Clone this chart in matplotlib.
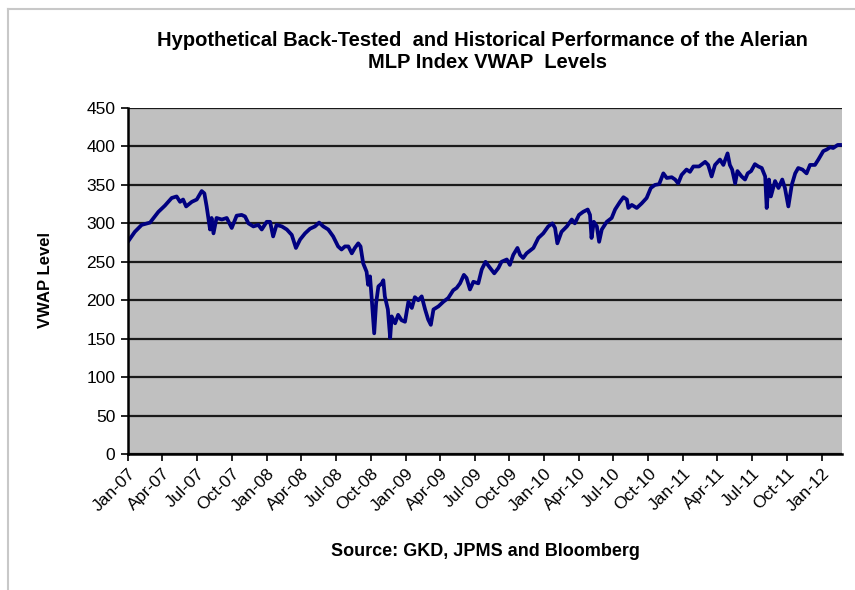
import matplotlib
matplotlib.use("Agg")
import matplotlib.pyplot as plt
import matplotlib.dates as mdates
from matplotlib.lines import Line2D
import pandas as pd

plt.rcParams['font.family'] = ['Liberation Sans', 'DejaVu Sans']

TITLE_1 = "Hypothetical Back-Tested  and Historical Performance of the Alerian"
TITLE_2 = "MLP Index VWAP  Levels"
YLABEL = "VWAP Level"
SOURCE = "Source: GKD, JPMS and Bloomberg"

# values
dates = [
    "2007-01-02", "2007-01-19", "2007-02-06", "2007-02-28", "2007-03-22", "2007-04-08",
    "2007-04-26", "2007-05-09", "2007-05-18", "2007-05-26", "2007-06-03", "2007-06-18",
    "2007-07-01", "2007-07-14", "2007-07-21", "2007-07-27", "2007-07-31", "2007-08-05",
    "2007-08-09", "2007-08-14", "2007-08-22", "2007-09-05", "2007-09-18", "2007-10-01",
    "2007-10-14", "2007-10-27", "2007-11-05", "2007-11-14", "2007-11-27", "2007-12-10",
    "2007-12-19", "2008-01-01", "2008-01-10", "2008-01-18", "2008-01-27", "2008-02-10",
    "2008-02-23", "2008-03-07", "2008-03-18", "2008-03-29", "2008-04-11", "2008-04-24",
    "2008-05-07", "2008-05-18", "2008-05-29", "2008-06-11", "2008-06-24", "2008-07-07",
    "2008-07-16", "2008-07-25", "2008-08-03", "2008-08-12", "2008-08-20", "2008-08-29",
    "2008-09-04", "2008-09-11", "2008-09-20", "2008-09-24", "2008-09-29", "2008-10-03",
    "2008-10-08", "2008-10-10", "2008-10-15", "2008-10-21", "2008-10-30", "2008-11-03",
    "2008-11-07", "2008-11-15", "2008-11-21", "2008-11-25", "2008-12-04", "2008-12-12",
    "2008-12-21", "2008-12-30", "2009-01-08", "2009-01-17", "2009-01-25", "2009-02-03",
    "2009-02-12", "2009-02-21", "2009-03-01", "2009-03-08", "2009-03-15", "2009-03-28",
    "2009-04-10", "2009-04-23", "2009-05-06", "2009-05-15", "2009-05-24", "2009-06-03",
    "2009-06-10", "2009-06-19", "2009-06-28", "2009-07-11", "2009-07-20", "2009-07-30",
    "2009-08-11", "2009-08-22", "2009-09-02", "2009-09-10", "2009-09-24", "2009-10-02",
    "2009-10-11", "2009-10-22", "2009-10-29", "2009-11-06", "2009-11-15", "2009-12-03",
    "2009-12-16", "2009-12-29", "2010-01-11", "2010-01-22", "2010-01-29", "2010-02-04",
    "2010-02-15", "2010-03-01", "2010-03-14", "2010-03-22", "2010-04-02", "2010-04-13",
    "2010-04-25", "2010-05-01", "2010-05-05", "2010-05-11", "2010-05-19", "2010-05-25",
    "2010-06-01", "2010-06-14", "2010-06-27", "2010-07-06", "2010-07-19", "2010-07-28",
    "2010-08-06", "2010-08-10", "2010-08-19", "2010-09-01", "2010-09-14", "2010-09-27",
    "2010-10-08", "2010-10-19", "2010-10-30", "2010-11-10", "2010-11-19", "2010-12-02",
    "2010-12-11", "2010-12-19", "2010-12-28", "2011-01-10", "2011-01-19", "2011-01-28",
    "2011-02-12", "2011-02-28", "2011-03-08", "2011-03-17", "2011-03-26", "2011-04-08",
    "2011-04-17", "2011-04-28", "2011-05-04", "2011-05-10", "2011-05-18", "2011-05-24",
    "2011-06-04", "2011-06-13", "2011-06-20", "2011-06-29", "2011-07-09", "2011-07-18",
    "2011-07-27", "2011-08-05", "2011-08-09", "2011-08-15", "2011-08-20", "2011-08-31",
    "2011-09-09", "2011-09-19", "2011-09-26", "2011-10-05", "2011-10-14", "2011-10-23",
    "2011-10-31", "2011-11-11", "2011-11-22", "2011-12-01", "2011-12-14", "2011-12-23",
    "2012-01-05", "2012-01-14", "2012-01-23", "2012-01-31", "2012-02-12", "2012-02-18",
]
vwap = [
    277, 289, 298, 301, 315, 323,
    333, 335, 328, 331, 322, 328,
    331, 342, 339, 322, 309, 292,
    307, 287, 307, 305, 307, 294,
    310, 311, 309, 300, 296, 298,
    292, 302, 302, 283, 298, 296,
    292, 285, 268, 279, 287, 293,
    296, 301, 296, 292, 283, 270,
    266, 270, 270, 261, 268, 274,
    270, 248, 237, 220, 231, 205,
    170, 157, 196, 218, 222, 226,
    205, 188, 151, 179, 170, 181,
    174, 172, 198, 190, 204, 200,
    205, 188, 175, 168, 188, 192,
    198, 203, 213, 216, 222, 233,
    229, 214, 224, 222, 240, 250,
    242, 235, 242, 250, 253, 246,
    259, 268, 259, 255, 261, 268,
    281, 287, 296, 300, 294, 274,
    289, 296, 305, 300, 311, 315,
    318, 311, 281, 302, 296, 276,
    292, 302, 307, 318, 328, 334,
    331, 320, 324, 320, 326, 333,
    346, 350, 351, 365, 359, 360,
    357, 352, 363, 370, 367, 374,
    374, 380, 376, 361, 376, 383,
    376, 391, 376, 370, 352, 368,
    361, 357, 365, 368, 377, 374,
    372, 361, 320, 357, 335, 355,
    346, 357, 346, 322, 350, 365,
    372, 370, 365, 376, 376, 383,
    394, 396, 399, 398, 402, 402,
]

yticks = list(range(0, 451, 50))
xstart = "2007-01-01"
xend = "2012-02-23"

x = pd.to_datetime(dates)

fig = plt.figure(figsize=(8.55, 5.9), dpi=100)
ax = fig.add_axes([0.1497, 0.2305, 0.835, 0.5864])
ax.set_facecolor("#C0C0C0")

ax.plot(x, vwap, color="#000080", lw=2.7, solid_joinstyle="round")

ax.set_ylim(0, 450)
ax.set_yticks(yticks)
ax.set_xlim(pd.Timestamp(xstart), pd.Timestamp(xend))
ax.xaxis.set_major_locator(mdates.MonthLocator(bymonth=[1, 4, 7, 10]))
ax.xaxis.set_major_formatter(mdates.DateFormatter("%b-%y"))

ax.grid(axis="y", color="#1a1a1a", lw=1.6)
ax.set_axisbelow(True)
for s in ["top", "right"]:
    ax.spines[s].set_visible(False)
for s in ["left", "bottom"]:
    ax.spines[s].set_linewidth(1.8)
    ax.spines[s].set_color("black")
    ax.spines[s].set_zorder(3)

ax.tick_params(axis="both", direction="out", length=5, width=1.2, labelsize=12.5, colors="black")
ax.tick_params(axis="y", pad=4)
for lab in ax.get_xticklabels():
    lab.set_rotation(45)
    lab.set_ha("right")
    lab.set_rotation_mode("anchor")

fig.text(0.564, 1 - 40 / 590, TITLE_1, ha="center", va="center", fontsize=14.5, fontweight="bold")
fig.text(0.570, 1 - 62 / 590, TITLE_2, ha="center", va="center", fontsize=14.5, fontweight="bold")
fig.text(0.053, 0.525, YLABEL, ha="center", va="center", rotation=90,
         fontsize=12, fontweight="bold")
fig.text(0.568, 0.066, SOURCE, ha="center", va="center", fontsize=13, fontweight="bold")

# chart-area border (left and top edges visible in the crop)
fig.add_artist(Line2D([8 / 855, 8 / 855], [0, 1 - 9 / 590], transform=fig.transFigure,
                      color="#c8c8c8", lw=1.5))
fig.add_artist(Line2D([8 / 855, 1], [1 - 9 / 590, 1 - 9 / 590], transform=fig.transFigure,
                      color="#c8c8c8", lw=1.5))

fig.savefig("out.png", dpi=100)
